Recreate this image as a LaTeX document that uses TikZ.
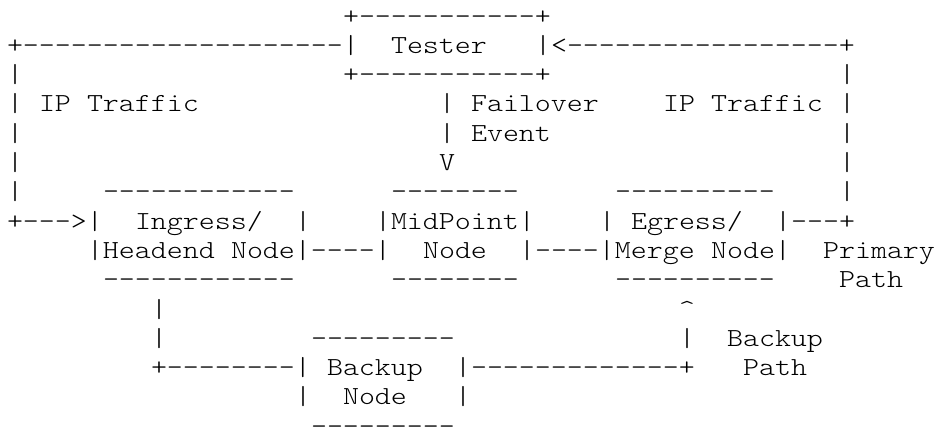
\documentclass[tikz,border=0pt]{standalone}
\usepackage{fontspec}
\setmonofont{lmmonolt10-regular.otf}[FakeStretch=1.172]
\tikzset{asc/.style={anchor=base west,inner sep=0pt,outer sep=0pt,text=black,
  font=\ttfamily\fontsize{26}{29}\selectfont}}
% row, column, text
\newcommand\asc[3]{\node[asc] (r#1c#2) at ({7+16*#2},{24.1+(#1-1)*29.3}) {#3};}
\begin{document}
\begin{tikzpicture}[x=1pt,y=-1pt]
\useasboundingbox (0,0) rectangle (940,427);
% row 1
\asc{1}{21}{+-----------+}
% row 2
\asc{2}{0}{+--------------------|}
\asc{2}{24}{Tester}
\asc{2}{33}{|<-----------------+}
% row 3
\asc{3}{0}{|}
\asc{3}{21}{+-----------+}
\asc{3}{52}{|}
% row 4
\asc{4}{0}{|}
\asc{4}{2}{IP}
\asc{4}{5}{Traffic}
\asc{4}{27}{|}
\asc{4}{29}{Failover}
\asc{4}{41}{IP}
\asc{4}{44}{Traffic}
\asc{4}{52}{|}
% row 5
\asc{5}{0}{|}
\asc{5}{27}{|}
\asc{5}{29}{Event}
\asc{5}{52}{|}
% row 6
\asc{6}{0}{|}
\asc{6}{27}{V}
\asc{6}{52}{|}
% row 7
\asc{7}{0}{|}
\asc{7}{6}{------------}
\asc{7}{24}{--------}
\asc{7}{38}{----------}
\asc{7}{52}{|}
% row 8
\asc{8}{0}{+--->|}
\asc{8}{8}{Ingress/}
\asc{8}{18}{|}
\asc{8}{23}{|MidPoint|}
\asc{8}{37}{|}
\asc{8}{39}{Egress/}
\asc{8}{48}{|---+}
% row 9
\asc{9}{5}{|Headend}
\asc{9}{14}{Node|----|}
\asc{9}{26}{Node}
\asc{9}{32}{|----|Merge}
\asc{9}{44}{Node|}
\asc{9}{51}{Primary}
% row 10
\asc{10}{6}{------------}
\asc{10}{24}{--------}
\asc{10}{38}{----------}
\asc{10}{52}{Path}
% row 11
\asc{11}{9}{|}
\asc{11}{42}{\textasciicircum}
% row 12
\asc{12}{9}{|}
\asc{12}{19}{---------}
\asc{12}{42}{|}
\asc{12}{45}{Backup}
% row 13
\asc{13}{9}{+--------|}
\asc{13}{20}{Backup}
\asc{13}{28}{|-------------+}
\asc{13}{46}{Path}
% row 14
\asc{14}{18}{|}
\asc{14}{21}{Node}
\asc{14}{28}{|}
% row 15
\asc{15}{19}{---------}
\end{tikzpicture}
\end{document}
